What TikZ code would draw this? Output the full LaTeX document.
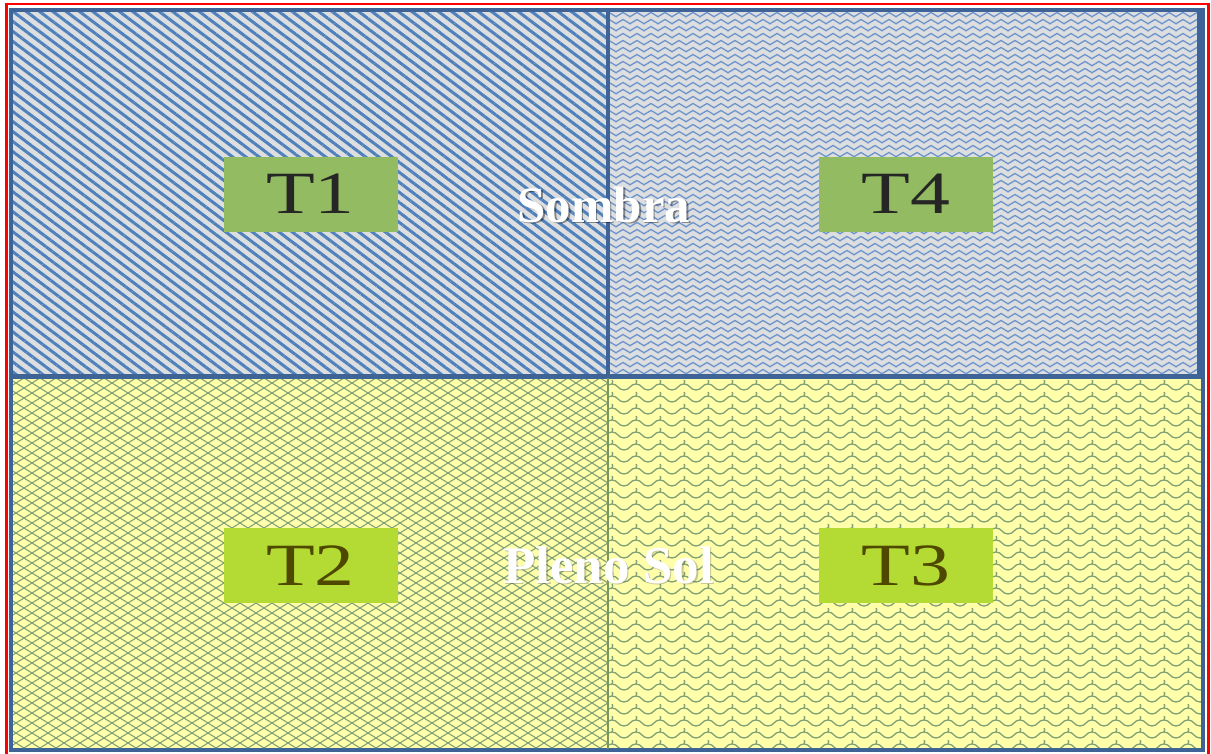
\documentclass[tikz,border=0pt]{standalone}
\usepackage{fontspec}
\usepackage{graphicx}
\setmainfont{Liberation Serif}
\usetikzlibrary{patterns.meta}
\definecolor{stripeblue}{RGB}{79,129,189}
\definecolor{zigblue}{RGB}{110,148,204}
\definecolor{graybg}{RGB}{221,222,224}
\definecolor{yellowbg}{RGB}{255,255,170}
\definecolor{latgreen}{RGB}{128,160,118}
\definecolor{borderblue}{RGB}{62,99,150}
\definecolor{divgreen}{RGB}{120,150,95}
\definecolor{boxgreen}{RGB}{147,188,98}
\definecolor{boxlime}{RGB}{179,219,52}
\definecolor{txtdark}{RGB}{38,38,38}
\definecolor{txtolive}{RGB}{79,72,0}
\tikzdeclarepattern{
  name=zigzag, type=uncolored,
  bottom left={(-1pt,-1pt)}, top right={(15pt,8pt)},
  tile size={(14pt,7pt)},
  code={\draw[line width=1.3pt] (-0.5pt,1pt) -- (7pt,5.5pt) -- (14.5pt,1pt);}
}
\tikzdeclarepattern{
  name=lattice, type=uncolored,
  bottom left={(-1pt,-1pt)}, top right={(17pt,11pt)},
  tile size={(16pt,10pt)},
  code={\draw[line width=1.1pt] (0pt,0pt) -- (16pt,10pt) (0pt,10pt) -- (16pt,0pt);}
}
\tikzdeclarepattern{
  name=scales, type=uncolored,
  bottom left={(-1pt,-1pt)}, top right={(25pt,13pt)},
  tile size={(24pt,12pt)},
  code={\draw[line width=1.3pt] (0pt,3pt) .. controls (6pt,3pt) and (6pt,9pt) .. (12pt,9pt) .. controls (18pt,9pt) and (18pt,3pt) .. (24pt,3pt);
        \draw[line width=1.3pt] (12pt,9pt) .. controls (13pt,11pt) and (13pt,12pt) .. (12pt,13pt);}
}
\begin{document}
\begin{tikzpicture}[x=1pt,y=-1pt,
  border/.style={draw=borderblue,line width=3.2pt},
  tbox/.style={minimum width=174pt,minimum height=75pt,inner sep=0pt,font=\fontsize{60}{70}\selectfont},
  shade1/.style={fill=boxgreen,text=txtdark},
  shade2/.style={fill=boxlime,text=txtolive},
  zone/.style={font=\bfseries\fontsize{51}{60}\selectfont,anchor=base,inner sep=0pt},
]
\useasboundingbox (0,0) rectangle (1211,753);
\fill[white] (0,0) rectangle (1211,753);
% top-left: stripes
\fill[graybg] (11,10) rectangle (608,376);
\fill[pattern={Lines[angle=-37,distance=8pt,line width=3pt]},pattern color=stripeblue] (11,10) rectangle (608,376);
% top-right: zigzag
\fill[graybg] (608,10) rectangle (1203,376);
\fill[pattern=zigzag,pattern color=zigblue] (608,10) rectangle (1203,376);
% bottom-left: lattice
\fill[yellowbg] (11,376) rectangle (608,750);
\fill[pattern=lattice,pattern color=latgreen] (11,376) rectangle (608,750);
% bottom-right: scales
\fill[yellowbg] (608,376) rectangle (1203,750);
\fill[pattern=scales,pattern color=latgreen] (608,376) rectangle (1203,750);
% borders
\draw[border] (11,10) rectangle (1203,376);
\draw[border] (608,10) rectangle (1199,376);
\draw[border] (11,377) rectangle (1203,750);
\draw[divgreen,line width=2pt] (608,378) -- (608,749);
\draw[red,line width=2.5pt] (1208.5,760) -- (1208.5,4) -- (6.5,4);
\draw[red,line width=3.5pt] (6.5,2.5) -- (6.5,760);
% labels
\node[tbox,shade1] (t1) at (310.5,194) {\scalebox{1.33}[1]{T1}};
\node[tbox,shade1] (t4) at (906,194) {\scalebox{1.33}[1]{T4}};
\node[tbox,shade2] (t2) at (310.5,565.5) {\scalebox{1.33}[1]{T2}};
\node[tbox,shade2] (t3) at (906,565.5) {\scalebox{1.33}[1]{T3}};
\node[zone,text=black,opacity=.4] (sombraS) at (605.5,223.5) {Sombra};
\node[zone,text=white] (sombra) at (604,222) {Sombra};
\node[zone,text=black!70,opacity=.3,font=\bfseries\fontsize{53}{60}\selectfont] (plenoS) at (610,584.5) {Pleno Sol};
\node[zone,text=white,font=\bfseries\fontsize{53}{60}\selectfont] (pleno) at (608.5,583) {Pleno Sol};
\end{tikzpicture}
\end{document}
